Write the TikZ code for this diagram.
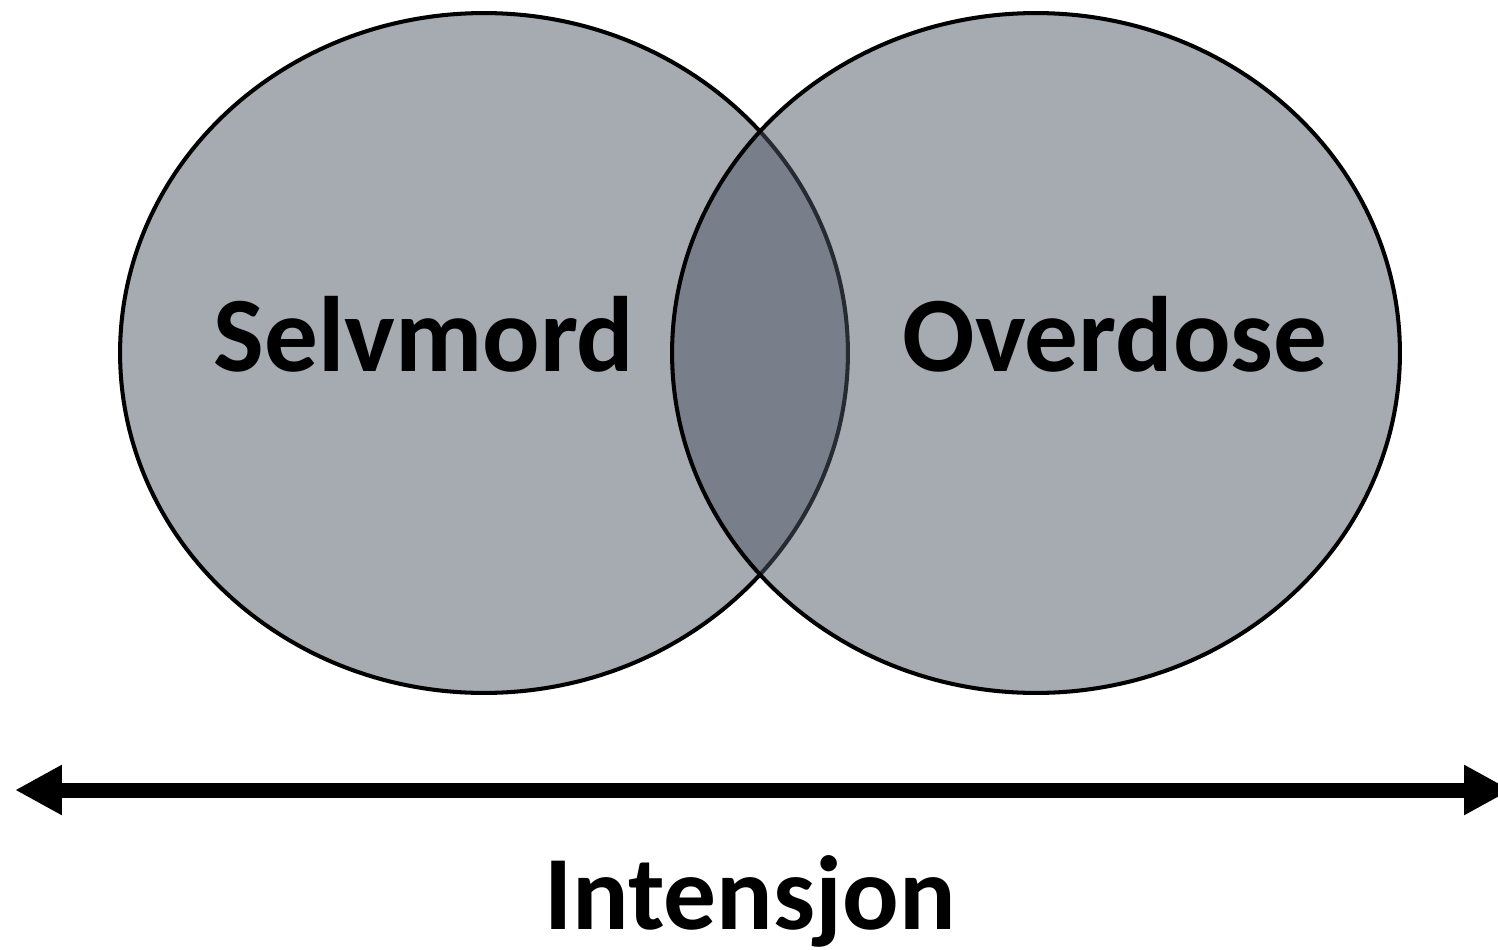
\documentclass[tikz,border=0pt]{standalone}
\usepackage{fontspec}
\setmainfont{Carlito}
\usepackage{tikz}
\usetikzlibrary{arrows.meta, positioning, shapes.geometric}
\definecolor{slate}{HTML}{4D5563}

\begin{document}
\begin{tikzpicture}[
  x=0.02cm, y=-0.02cm,
  set/.style={ellipse, draw=black, line width=2.3pt, fill=slate, fill opacity=0.5, text opacity=1, minimum width=14.56cm, minimum height=13.6cm, inner sep=0pt},
  lbl/.style={font=\fontsize{61}{68}\selectfont\bfseries, anchor=base, inner sep=0pt},
  arr/.style={{Triangle[length=0.94cm, width=0.94cm]}-{Triangle[length=0.94cm, width=0.94cm]}, line width=0.3cm}
]
\useasboundingbox (0,0) rectangle (1498,950);
\node[set] (suicide) at (484,353) {};
\node[set] (overdose) at (1036,353) {};
\node[lbl] (suicidetxt) at (424,371) {Selvmord};
\node[lbl] (overdosetxt) at (1115,371) {Overdose};

\coordinate (lowend) at (15,790);
\coordinate (highend) at (1511,790);
\draw[arr] (lowend) -- (highend);

\node[lbl, font=\fontsize{60}{66}\selectfont\bfseries] (intent) at (750,929) {Intensjon};
\end{tikzpicture}
\end{document}
